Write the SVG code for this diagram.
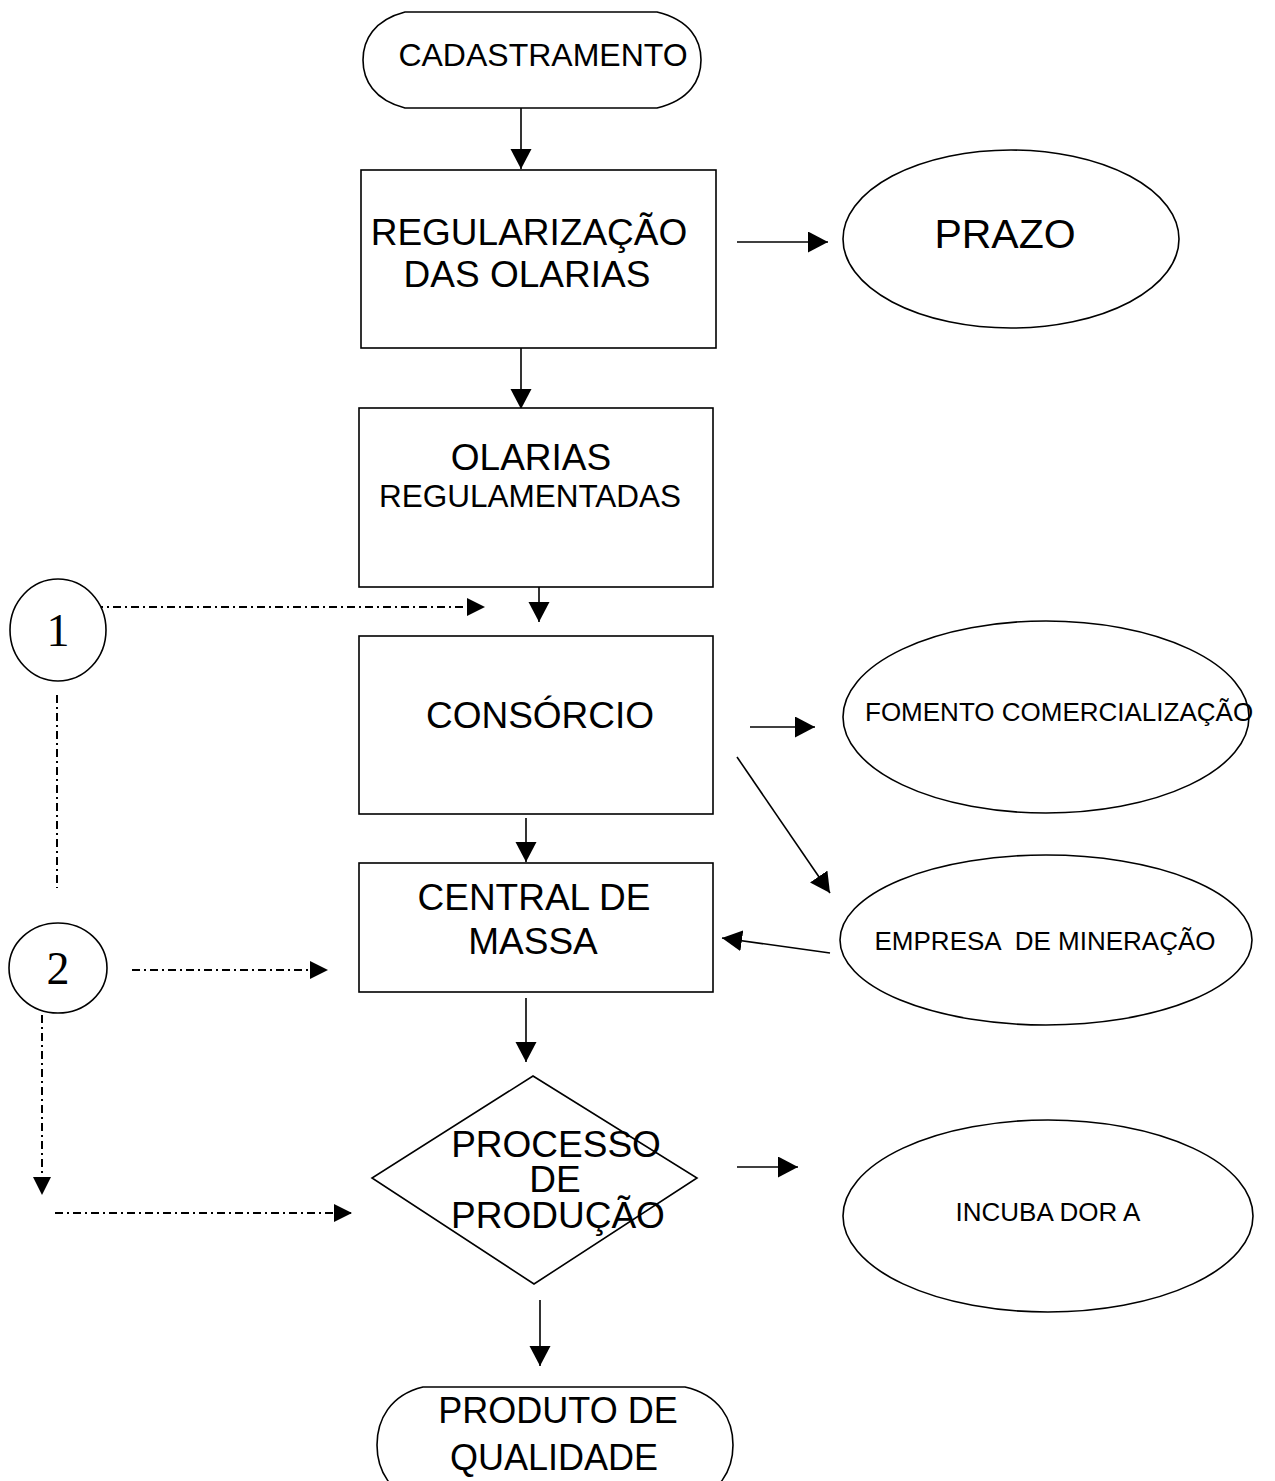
<svg xmlns="http://www.w3.org/2000/svg" width="1275" height="1481" viewBox="0 0 1275 1481">
<style>
.shape{fill:#fff;stroke:#000;stroke-width:1.6}
.t{font-family:"Liberation Sans",Arial,sans-serif;fill:#000;text-anchor:middle}
.n{font-family:"Liberation Serif","Times New Roman",serif;fill:#000;text-anchor:middle;font-size:46px}
.c{fill:none;stroke:#000;stroke-width:1.6}
.d{fill:none;stroke:#000;stroke-width:2;stroke-dasharray:8 4 2 4}
</style>
<defs>
<marker id="ah" markerUnits="userSpaceOnUse" markerWidth="22" markerHeight="22" refX="20" refY="10.5" orient="auto">
<path d="M0,0 L20,10.5 L0,21 Z" fill="#000"/>
</marker>
<marker id="ahs" markerUnits="userSpaceOnUse" markerWidth="20" markerHeight="20" refX="18" refY="9" orient="auto">
<path d="M0,0 L18,9 L0,18 Z" fill="#000"/>
</marker>
</defs>
<rect width="1275" height="1481" fill="#fff"/>

<g id="connectors">
<line class="c" x1="521" y1="108" x2="521" y2="169" marker-end="url(#ah)"/>
<line class="c" x1="737" y1="242" x2="828" y2="242" marker-end="url(#ah)"/>
<line class="c" x1="521" y1="348" x2="521" y2="409" marker-end="url(#ah)"/>
<line class="c" x1="539" y1="576" x2="539" y2="622" marker-end="url(#ah)"/>
<line class="c" x1="526" y1="818" x2="526" y2="862" marker-end="url(#ah)"/>
<line class="c" x1="526" y1="998" x2="526" y2="1062" marker-end="url(#ah)"/>
<line class="c" x1="540" y1="1300" x2="540" y2="1366" marker-end="url(#ah)"/>
<line class="c" x1="750" y1="727" x2="815" y2="727" marker-end="url(#ah)"/>
<line class="c" x1="737" y1="757" x2="830" y2="893" marker-end="url(#ah)"/>
<line class="c" x1="830" y1="953" x2="722" y2="938" marker-end="url(#ah)"/>
<line class="c" x1="737" y1="1167" x2="798" y2="1167" marker-end="url(#ah)"/>
<line class="d" x1="95" y1="607" x2="485" y2="607" marker-end="url(#ahs)"/>
<line class="d" x1="57" y1="695" x2="57" y2="888"/>
<line class="d" x1="132" y1="970" x2="328" y2="970" marker-end="url(#ahs)"/>
<line class="d" x1="42" y1="1015" x2="42" y2="1195" marker-end="url(#ahs)"/>
<line class="d" x1="55" y1="1213" x2="352" y2="1213" marker-end="url(#ahs)"/>
</g>

<g id="cadastramento">
<path class="shape" d="M405,12 H657 C690,20 701,40 701,60 C701,80 690,100 657,108 H405 C374,100 363,80 363,60 C363,40 374,20 405,12 Z"/>
<text class="t" x="543" y="66" font-size="32">CADASTRAMENTO</text>
</g>

<g id="regularizacao">
<rect class="shape" x="361" y="170" width="355" height="178"/>
<text class="t" x="529" y="245" font-size="37">REGULARIZAÇÃO</text>
<text class="t" x="527" y="287" font-size="37">DAS OLARIAS</text>
</g>

<g id="prazo">
<ellipse class="shape" cx="1011" cy="239" rx="168" ry="89"/>
<text class="t" x="1005" y="248" font-size="41">PRAZO</text>
</g>

<g id="olarias">
<rect class="shape" x="359" y="408" width="354" height="179"/>
<text class="t" x="531" y="470" font-size="37">OLARIAS</text>
<text class="t" x="530" y="507" font-size="31.5">REGULAMENTADAS</text>
</g>

<g id="n1">
<ellipse class="shape" cx="58" cy="630" rx="48" ry="51"/>
<text class="n" x="58" y="646">1</text>
</g>

<g id="consorcio">
<rect class="shape" x="359" y="636" width="354" height="178"/>
<text class="t" x="540" y="728" font-size="37">CONSÓRCIO</text>
</g>

<g id="fomento">
<ellipse class="shape" cx="1046" cy="717" rx="203" ry="96"/>
<text x="865" y="721" font-size="26" font-family="Liberation Sans, Arial, sans-serif">FOMENTO COMERCIALIZAÇÃO</text>
</g>

<g id="central">
<rect class="shape" x="359" y="863" width="354" height="129"/>
<text class="t" x="534" y="910" font-size="37">CENTRAL DE</text>
<text class="t" x="533" y="954" font-size="37">MASSA</text>
</g>

<g id="empresa">
<ellipse class="shape" cx="1046" cy="940" rx="206" ry="85"/>
<text class="t" x="1045" y="950" font-size="26" xml:space="preserve">EMPRESA  DE MINERAÇÃO</text>
</g>

<g id="n2">
<ellipse class="shape" cx="58" cy="968" rx="49" ry="45"/>
<text class="n" x="58" y="984">2</text>
</g>

<g id="processo">
<polygon class="shape" points="533,1076 697,1178 534,1284 372,1178"/>
<text class="t" x="556" y="1157" font-size="37">PROCESSO</text>
<text class="t" x="555" y="1192" font-size="37">DE</text>
<text class="t" x="558" y="1228" font-size="37">PRODUÇÃO</text>
</g>

<g id="incubadora">
<ellipse class="shape" cx="1048" cy="1216" rx="205" ry="96"/>
<text class="t" x="1048" y="1221" font-size="26">INCUBA DOR A</text>
</g>

<g id="produto">
<path class="shape" d="M423,1387 H685 C720,1395 733,1420 733,1445 C733,1470 720,1495 685,1503 H423 C390,1495 377,1470 377,1445 C377,1420 390,1395 423,1387 Z"/>
<text class="t" x="558" y="1423" font-size="36">PRODUTO DE</text>
<text class="t" x="554" y="1470" font-size="36">QUALIDADE</text>
</g>
</svg>
